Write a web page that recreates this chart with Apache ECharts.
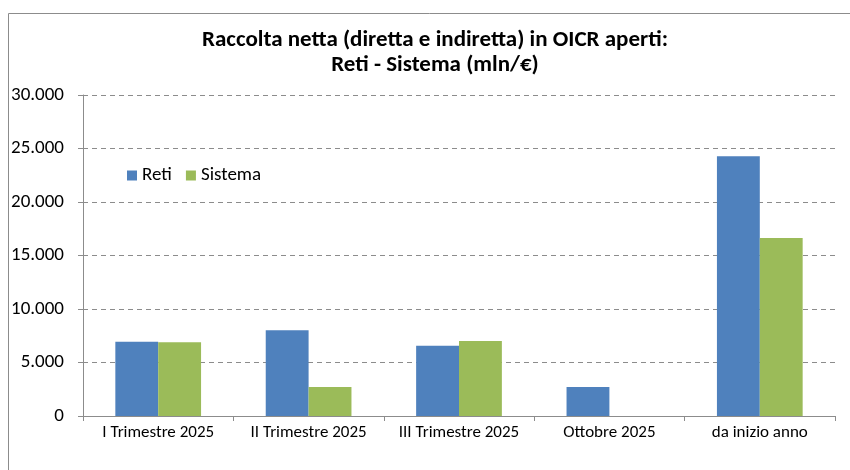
<!DOCTYPE html>
<html>
<head>
<meta charset="utf-8">
<script src="https://cdn.jsdelivr.net/npm/echarts@6/dist/echarts.min.js"></script>
<style>
	html, body { margin: 0; padding: 0; background: #fff; }
	#chart { width: 850px; height: 470px; }
</style>
</head>
<body>
<div id="chart"></div>
<script>
var categories = ["I Trimestre 2025", "II Trimestre 2025", "III Trimestre 2025", "Ottobre 2025", "da inizio anno"];
var reti = [6950, 8010, 6570, 2710, 24270];
var sistema = [6890, 2710, 7010, null, 16640];
var yTicks = [0, 5000, 10000, 15000, 20000, 25000, 30000];

var fontFam = "Carlito, Lato, 'Open Sans', sans-serif";

function fmtThousands(v) {
	return v.toString().replace(/\B(?=(\d{3})+(?!\d))/g, ".");
}

var myChart = echarts.init(document.getElementById("chart"));
var option = {
	animation: false,
	textStyle: { fontFamily: fontFam },
	title: {
		text: "Raccolta netta (diretta e indiretta) in OICR aperti:\nReti - Sistema (mln/€)",
		left: 430,
		textAlign: 'center',
		top: 23,
		textStyle: {
			fontFamily: fontFam,
			fontSize: 23,
			fontWeight: 'bold',
			color: '#000',
			lineHeight: 25,
		},
	},
	legend: {
		left: 122,
		top: 161,
		itemWidth: 10,
		itemHeight: 10,
		itemGap: 14,
		icon: 'rect',
		textStyle: { fontFamily: fontFam, fontSize: 19, color: '#000' },
		data: ['Reti', 'Sistema'],
	},
	graphic: [
		{
			type: 'rect',
			shape: { x: 8.5, y: 13.5, width: 900, height: 500 },
			style: { fill: 'none', stroke: '#8c8c8c', lineWidth: 1 },
			silent: true,
		}
	],
	grid: {
		left: 83,
		right: 15,
		top: 95,
		bottom: 54,
		containLabel: false,
	},
	xAxis: {
		type: 'category',
		data: categories,
		axisLine: { lineStyle: { color: '#8c8c8c' } },
		axisTick: { show: true, length: 5, lineStyle: { color: '#8c8c8c' } },
		axisLabel: { fontFamily: fontFam, fontSize: 17, color: '#000', margin: 8, interval: 0 },
	},
	yAxis: {
		type: 'value',
		min: yTicks[0],
		max: yTicks[yTicks.length - 1],
		interval: 5000,
		axisLine: { show: true, lineStyle: { color: '#8c8c8c' } },
		axisTick: { show: true, length: 5, lineStyle: { color: '#8c8c8c' } },
		axisLabel: {
			fontFamily: fontFam,
			fontSize: 19,
			color: '#000',
			margin: 19,
			formatter: function(v) { return fmtThousands(v); },
		},
		splitLine: { lineStyle: { color: '#8c8c8c', type: [5, 4], width: 1 } },
	},
	series: [
		{
			name: 'Reti',
			type: 'bar',
			data: reti,
			color: '#4f81bd',
			barGap: '0%',
			barCategoryGap: '43%',
		},
		{
			name: 'Sistema',
			type: 'bar',
			data: sistema,
			color: '#9bbb59',
			barGap: '0%',
			barCategoryGap: '43%',
		}
	]
};
option && myChart.setOption(option);
</script>
</body>
</html>
